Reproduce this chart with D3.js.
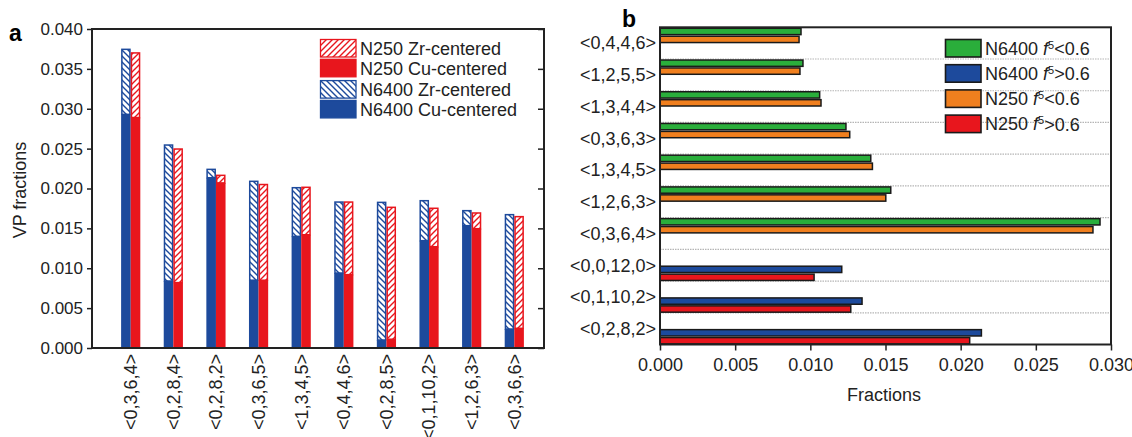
<!DOCTYPE html>
<html>
<head>
<meta charset="utf-8">
<script src="https://cdn.jsdelivr.net/npm/d3@7"></script>
<style>
   body { margin: 0; background: #fff; }
   svg { font-family: "Liberation Sans", Arial, sans-serif; }
   .tick text { fill: #222; }
</style>
</head>
<body>
<script>
"use strict"

// panel a: Voronoi polyhedra fractions (stacked Cu + Zr centred)
const vpCats = ['<0,3,6,4>', '<0,2,8,4>', '<0,2,8,2>', '<0,3,6,5>', '<1,3,4,5>',
                '<0,4,4,6>', '<0,2,8,5>', '<0,1,10,2>', '<1,2,6,3>', '<0,3,6,6>']
const n6400Cu = [0.0293, 0.0084, 0.02135, 0.0085, 0.0140, 0.0094, 0.0010, 0.01346, 0.01534, 0.00238]
const n6400Zr = [0.00815, 0.01705, 0.00105, 0.0124, 0.0061, 0.0089, 0.01726, 0.00501, 0.00188, 0.01434]
const n250Cu  = [0.0289, 0.0082, 0.0207, 0.0085, 0.0142, 0.0092, 0.0011, 0.0127, 0.01496, 0.00247]
const n250Zr  = [0.0081, 0.01675, 0.00095, 0.0120, 0.00595, 0.0091, 0.01654, 0.00482, 0.00197, 0.0140]
const yTicksA = [0, 0.005, 0.010, 0.015, 0.020, 0.025, 0.030, 0.035, 0.040]

// panel b: fractions split by f5
const bCats = ['<0,4,4,6>', '<1,2,5,5>', '<1,3,4,4>', '<0,3,6,3>', '<1,3,4,5>',
               '<1,2,6,3>', '<0,3,6,4>', '<0,0,12,0>', '<0,1,10,2>', '<0,2,8,2>']
const n6400Low  = [0.00938, 0.00951, 0.01062, 0.01237, 0.01402, 0.01535, 0.02927, 0, 0, 0]
const n250Low   = [0.00925, 0.00931, 0.01071, 0.01262, 0.01413, 0.01502, 0.02880, 0, 0, 0]
const n6400High = [0, 0, 0, 0, 0, 0, 0, 0.01209, 0.01344, 0.02138]
const n250High  = [0, 0, 0, 0, 0, 0, 0, 0.01025, 0.01269, 0.02060]
const xTicksB = [0, 0.005, 0.010, 0.015, 0.020, 0.025, 0.030]

const blue = '#1d4a9c', red = '#e8161d', green = '#2aae3b', orange = '#f07f1e'
const w = 1132, h = 437

let svg = d3.select('body')
   .append('svg')
      .attr('width', w)
      .attr('height', h)

// hatch patterns
const defs = svg.append('defs')
function hatch(id, color, back) {
   const p = defs.append('pattern')
      .attr('id', id)
      .attr('patternUnits', 'userSpaceOnUse')
      .attr('width', 6)
      .attr('height', 6)
   p.append('rect').attr('width', 6).attr('height', 6).attr('fill', '#fff')
   const d = back ? 'M-1,-1 L7,7 M-4,2 L2,8 M4,-2 L8,2' : 'M-1,7 L7,-1 M-4,4 L2,-2 M4,8 L8,4'
   p.append('path').attr('d', d).attr('stroke', color).attr('stroke-width', 1.4)
}
hatch('hatchRed', red, false)
hatch('hatchBlue', blue, true)

// ---------- panel a ----------
const A = { l: 92, r: 544, t: 29, b: 348 }
const ya = d3.scaleLinear([0, 0.040], [A.b, A.t])
const xa = d3.scaleBand(vpCats, [109.4, 535.6])
const bw = 9.6

svg.append('g')
   .attr('transform', `translate(${A.l},0)`)
   .call(d3.axisLeft(ya).tickValues(yTicksA).tickFormat(d3.format('.3f')).tickSize(5).tickPadding(4))
   .call(g => g.select('.domain').remove())
   .call(g => g.selectAll('.tick line').attr('stroke', '#222').attr('stroke-width', 1.5))
   .call(g => g.selectAll('.tick text').attr('font-size', 17).attr('font-family', 'Liberation Sans, Arial, sans-serif'))

svg.append('g')
   .attr('transform', `translate(${A.r},0)`)
   .call(d3.axisLeft(ya).tickValues(yTicksA).tickFormat('').tickSize(6))
   .call(g => g.select('.domain').remove())
   .call(g => g.selectAll('.tick line').attr('stroke', '#222').attr('stroke-width', 1.5))

const series = [
   { cu: n6400Cu, zr: n6400Zr, color: blue, hatch: 'url(#hatchBlue)', off: -bw },
   { cu: n250Cu, zr: n250Zr, color: red, hatch: 'url(#hatchRed)', off: 0 }
]
series.forEach(s => {
   const g = svg.append('g')
   const cx = d => xa(d) + xa.bandwidth() / 2 + s.off
   g.selectAll('rect.zr')
      .data(vpCats)
      .enter()
      .append('rect')
         .attr('x', d => cx(d) + 0.75)
         .attr('width', bw - 1.5)
         .attr('y', (d, i) => ya(s.cu[i] + s.zr[i]))
         .attr('height', (d, i) => ya(s.cu[i]) - ya(s.cu[i] + s.zr[i]))
         .attr('fill', s.hatch)
         .attr('stroke', s.color)
         .attr('stroke-width', 1.5)
   g.selectAll('rect.cu')
      .data(vpCats)
      .enter()
      .append('rect')
         .attr('x', d => cx(d))
         .attr('width', bw)
         .attr('y', (d, i) => ya(s.cu[i]))
         .attr('height', (d, i) => A.b - ya(s.cu[i]))
         .attr('fill', s.color)
})

svg.append('rect')
   .attr('x', A.l).attr('y', A.t)
   .attr('width', A.r - A.l).attr('height', A.b - A.t)
   .attr('fill', 'none').attr('stroke', '#222').attr('stroke-width', 2)

svg.append('g')
   .selectAll('text')
   .data(vpCats)
   .enter()
   .append('text')
      .attr('transform', d => `translate(${xa(d) + xa.bandwidth() / 2},354) rotate(-90)`)
      .attr('text-anchor', 'end')
      .attr('dy', '0.35em')
      .attr('font-size', 18)
      .attr('fill', '#222')
      .text(d => d)

svg.append('text')
   .attr('transform', 'translate(26,190) rotate(-90)')
   .attr('text-anchor', 'middle')
   .attr('font-size', 18)
   .attr('fill', '#222')
   .text('VP fractions')

svg.append('text')
   .attr('x', 9).attr('y', 41)
   .attr('font-size', 23).attr('font-weight', 'bold')
   .text('a')

const legA = [
   { label: 'N250 Zr-centered', fill: 'url(#hatchRed)', stroke: red },
   { label: 'N250 Cu-centered', fill: red, stroke: red },
   { label: 'N6400 Zr-centered', fill: 'url(#hatchBlue)', stroke: blue },
   { label: 'N6400 Cu-centered', fill: blue, stroke: blue }
]
const la = svg.append('g')
legA.forEach((d, i) => {
   const y0 = 39.5 + i * 19.8 + (i > 1 ? 1.5 : 0)
   la.append('rect')
      .attr('x', 320.5).attr('y', y0)
      .attr('width', 35.5).attr('height', 17.5)
      .attr('fill', d.fill).attr('stroke', d.stroke).attr('stroke-width', 1.3)
   la.append('text')
      .attr('x', 360).attr('y', y0 + 9)
      .attr('dy', '0.35em')
      .attr('font-size', 18)
      .attr('fill', '#222')
      .text(d.label)
})

// ---------- panel b ----------
const B = { l: 660, r: 1111, t: 27.3, b: 344.5 }
const xb = d3.scaleLinear([0, 0.030], [B.l, B.r])
const yb = d3.scaleBand(bCats, [B.t, B.b])
const slot = yb.bandwidth() / 4

svg.append('g')
   .selectAll('line')
   .data(bCats.slice(1))
   .enter()
   .append('line')
      .attr('x1', B.l).attr('x2', B.r)
      .attr('y1', d => yb(d)).attr('y2', d => yb(d))
      .attr('stroke', '#b5b5b5')
      .attr('stroke-width', 1.2)
      .attr('stroke-dasharray', '1.5,1')

const bSeries = [
   { vals: n6400Low, color: green },
   { vals: n250Low, color: orange },
   { vals: n6400High, color: blue },
   { vals: n250High, color: red }
]
bSeries.forEach((s, k) => {
   svg.append('g')
      .selectAll('rect')
      .data(bCats.filter((d, i) => s.vals[i] > 0))
      .enter()
      .append('rect')
         .attr('x', B.l)
         .attr('y', d => yb(d) + k * slot + 1)
         .attr('width', d => xb(s.vals[bCats.indexOf(d)]) - B.l)
         .attr('height', slot - 1.6)
         .attr('fill', s.color)
         .attr('stroke', '#1a1a1a')
         .attr('stroke-width', 1.5)
})

svg.append('g')
   .attr('transform', `translate(0,${B.b})`)
   .call(d3.axisBottom(xb).tickValues(xTicksB).tickFormat(d3.format('.3f')).tickSize(6).tickPadding(8))
   .call(g => g.select('.domain').remove())
   .call(g => g.selectAll('.tick line').attr('stroke', '#222').attr('stroke-width', 1.5))
   .call(g => g.selectAll('.tick text').attr('font-size', 18).attr('font-family', 'Liberation Sans, Arial, sans-serif'))

svg.append('rect')
   .attr('x', B.l).attr('y', B.t)
   .attr('width', B.r - B.l).attr('height', B.b - B.t)
   .attr('fill', 'none').attr('stroke', '#222').attr('stroke-width', 2)

svg.append('g')
   .selectAll('text')
   .data(bCats)
   .enter()
   .append('text')
      .attr('x', 656)
      .attr('y', d => yb(d) + yb.bandwidth() / 2)
      .attr('dy', '0.35em')
      .attr('text-anchor', 'end')
      .attr('font-size', 18)
      .attr('fill', '#222')
      .text(d => d)

svg.append('text')
   .attr('x', 884).attr('y', 401)
   .attr('text-anchor', 'middle')
   .attr('font-size', 18)
   .attr('fill', '#222')
   .text('Fractions')

svg.append('text')
   .attr('x', 622).attr('y', 27)
   .attr('font-size', 23).attr('font-weight', 'bold')
   .text('b')

const legB = [
   { n: 'N6400 ', op: '<0.6', color: green },
   { n: 'N6400 ', op: '>0.6', color: blue },
   { n: 'N250 ', op: '<0.6', color: orange },
   { n: 'N250 ', op: '>0.6', color: red }
]
const lb = svg.append('g')
legB.forEach((d, i) => {
   const y0 = 39.5 + i * 25.2
   lb.append('rect')
      .attr('x', 945.5).attr('y', y0)
      .attr('width', 35.5).attr('height', 17.5)
      .attr('fill', d.color).attr('stroke', '#1a1a1a').attr('stroke-width', 1.6)
   const t = lb.append('text')
      .attr('x', 985).attr('y', y0 + 9)
      .attr('dy', '0.35em')
      .attr('font-size', 18)
      .attr('fill', '#222')
   t.append('tspan').text(d.n)
   t.append('tspan').attr('font-style', 'italic').text('f')
   t.append('tspan').attr('font-size', 11).attr('dy', '-0.55em').text('5')
   t.append('tspan').attr('dy', '0.35em').text(d.op)
})
</script>
</body>
</html>
